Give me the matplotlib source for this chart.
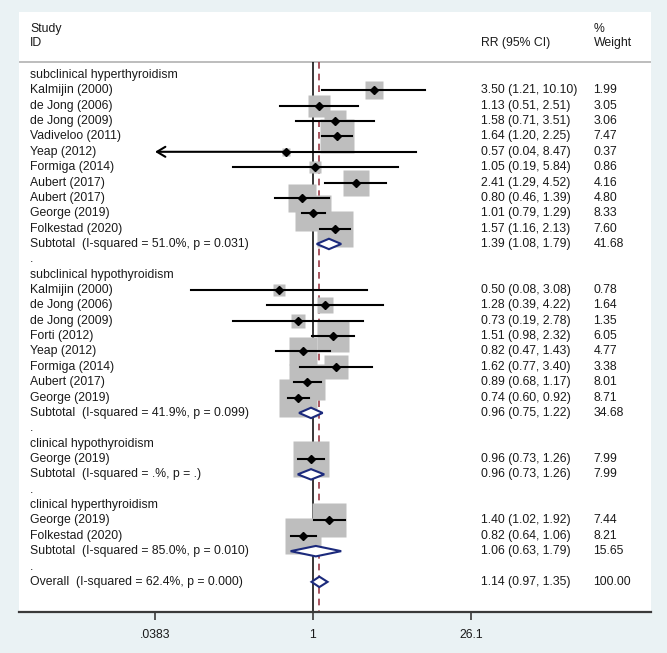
import numpy as np
import matplotlib.pyplot as plt
from matplotlib.patches import Polygon
from matplotlib.transforms import blended_transform_factory

# Data
group_names = ["subclinical hyperthyroidism", "subclinical hypothyroidism",
               "clinical hypothyroidism", "clinical hyperthyroidism"]

study_group = [0, 0, 0, 0, 0, 0, 0, 0, 0, 0,
               1, 1, 1, 1, 1, 1, 1, 1,
               2,
               3, 3]
study_names = ["Kalmijin (2000)", "de Jong (2006)", "de Jong (2009)", "Vadiveloo (2011)",
               "Yeap (2012)", "Formiga (2014)", "Aubert (2017)", "Aubert (2017)",
               "George (2019)", "Folkestad (2020)",
               "Kalmijin (2000)", "de Jong (2006)", "de Jong (2009)", "Forti (2012)",
               "Yeap (2012)", "Formiga (2014)", "Aubert (2017)", "George (2019)",
               "George (2019)",
               "George (2019)", "Folkestad (2020)"]
study_rr = [3.50, 1.13, 1.58, 1.64, 0.57, 1.05, 2.41, 0.80, 1.01, 1.57,
            0.50, 1.28, 0.73, 1.51, 0.82, 1.62, 0.89, 0.74,
            0.96,
            1.40, 0.82]
study_lo = [1.21, 0.51, 0.71, 1.20, 0.04, 0.19, 1.29, 0.46, 0.79, 1.16,
            0.08, 0.39, 0.19, 0.98, 0.47, 0.77, 0.68, 0.60,
            0.73,
            1.02, 0.64]
study_hi = [10.10, 2.51, 3.51, 2.25, 8.47, 5.84, 4.52, 1.39, 1.29, 2.13,
            3.08, 4.22, 2.78, 2.32, 1.43, 3.40, 1.17, 0.92,
            1.26,
            1.92, 1.06]
study_wt = [1.99, 3.05, 3.06, 7.47, 0.37, 0.86, 4.16, 4.80, 8.33, 7.60,
            0.78, 1.64, 1.35, 6.05, 4.77, 3.38, 8.01, 8.71,
            7.99,
            7.44, 8.21]

sub_rr = [1.39, 0.96, 0.96, 1.06]
sub_lo = [1.08, 0.75, 0.73, 0.63]
sub_hi = [1.79, 1.22, 1.26, 1.79]
sub_wt = [41.68, 34.68, 7.99, 15.65]
sub_i2 = ["51.0", "41.9", ".", "85.0"]
sub_p = ["0.031", "0.099", ".", "0.010"]

overall_rr, overall_lo, overall_hi, overall_wt = 1.14, 0.97, 1.35, 100.00
overall_i2, overall_p = "62.4", "0.000"

xtick_vals = [1 / 26.1, 1, 26.1]
xtick_labels = [".0383", "1", "26.1"]

# Style
plt.rcParams['font.family'] = ['Liberation Sans', 'DejaVu Sans']
bg = '#EAF2F4'
box_grey = '#BEBEBE'
navy = '#1C2A7C'
txt = '#1A1A1A'
fs = 8.8

W, H = 667, 653
fig = plt.figure(figsize=(W / 100, H / 100), dpi=100, facecolor=bg)
ax = fig.add_axes([19 / W, 1 - 612 / H, 632 / W, 600 / H])
ax.set_facecolor('white')
ax.set_xscale('log')
px_per_ln = 158 / np.log(26.1)
ax.set_xlim(np.exp(-(313 - 19) / px_per_ln), np.exp((651 - 313) / px_per_ln))
row_px = 15.36
ax.set_ylim((612 - 75) / row_px, (12 - 75) / row_px)

tr = blended_transform_factory(ax.transAxes, ax.transData)
x_lab, x_ci, x_wt = 0.0174, 0.731, 0.909


def put(x, y, s):
    ax.text(x, y, s, transform=tr, fontsize=fs, color=txt, va='center', ha='left')


def diamond(rr, lo, hi, y):
    h = 0.34
    ax.add_patch(Polygon([(lo, y), (rr, y - h), (hi, y), (rr, y + h)], closed=True,
                         facecolor='white', edgecolor=navy, lw=1.5, zorder=5))


# header
put(x_lab, -3.0, "Study")
put(x_lab, -2.08, "ID")
put(x_ci, -2.08, "RR (95% CI)")
put(x_wt, -3.0, "%")
put(x_wt, -2.08, "Weight")
head_y = -0.85
ax.axhline(head_y, color='#BDBDBD', lw=1.4, zorder=1)

bottom = ax.get_ylim()[0]
ax.vlines(1, head_y, bottom, colors='black', lw=1.1, zorder=1)
ax.vlines(overall_rr, head_y, bottom, colors='#9A3A45', lw=1.2,
          linestyles=(0, (4, 3)), zorder=1)

row = 0
for g, gname in enumerate(group_names):
    put(x_lab, row, gname)
    row += 1
    for i in range(len(study_names)):
        if study_group[i] != g:
            continue
        rr, lo, hi, w = study_rr[i], study_lo[i], study_hi[i], study_wt[i]
        ax.plot(rr, row, marker='s', ms=12.8 * np.sqrt(w) * 0.72, color=box_grey,
                mec='none', zorder=2)
        if lo < 0.05:
            # lower limit runs off the left of the scale: Stata draws an arrow
            ax.plot([rr, hi], [row, row], color='black', lw=1.5, zorder=3)
            ax.annotate('', xy=(xtick_vals[0], row), xytext=(rr, row), zorder=3,
                        arrowprops=dict(arrowstyle='->,head_length=0.5,head_width=0.3',
                                        color='black', lw=1.5, mutation_scale=12,
                                        shrinkA=0, shrinkB=0))
        else:
            ax.plot([lo, hi], [row, row], color='black', lw=1.5, zorder=3)
        ax.plot(rr, row, marker='D', ms=3.6, color='black', zorder=4)
        put(x_lab, row, study_names[i])
        put(x_ci, row, f"{rr:.2f} ({lo:.2f}, {hi:.2f})")
        put(x_wt, row, f"{w:.2f}")
        row += 1
    diamond(sub_rr[g], sub_lo[g], sub_hi[g], row)
    put(x_lab, row, f"Subtotal  (I-squared = {sub_i2[g]}%, p = {sub_p[g]})")
    put(x_ci, row, f"{sub_rr[g]:.2f} ({sub_lo[g]:.2f}, {sub_hi[g]:.2f})")
    put(x_wt, row, f"{sub_wt[g]:.2f}")
    row += 1
    put(x_lab, row, ".")
    row += 1

diamond(overall_rr, overall_lo, overall_hi, row)
put(x_lab, row, f"Overall  (I-squared = {overall_i2}%, p = {overall_p})")
put(x_ci, row, f"{overall_rr:.2f} ({overall_lo:.2f}, {overall_hi:.2f})")
put(x_wt, row, f"{overall_wt:.2f}")

# axis
for s in ['left', 'top', 'right']:
    ax.spines[s].set_visible(False)
ax.spines['bottom'].set_color('#3A3A3A')
ax.spines['bottom'].set_linewidth(1.6)
ax.set_yticks([])
ax.set_xticks(xtick_vals)
ax.set_xticklabels(xtick_labels)
ax.minorticks_off()
ax.tick_params(axis='x', length=6, width=1.2, color='#3A3A3A', labelsize=fs,
               labelcolor=txt, pad=6)

fig.savefig('out.png', dpi=100, facecolor=bg)
